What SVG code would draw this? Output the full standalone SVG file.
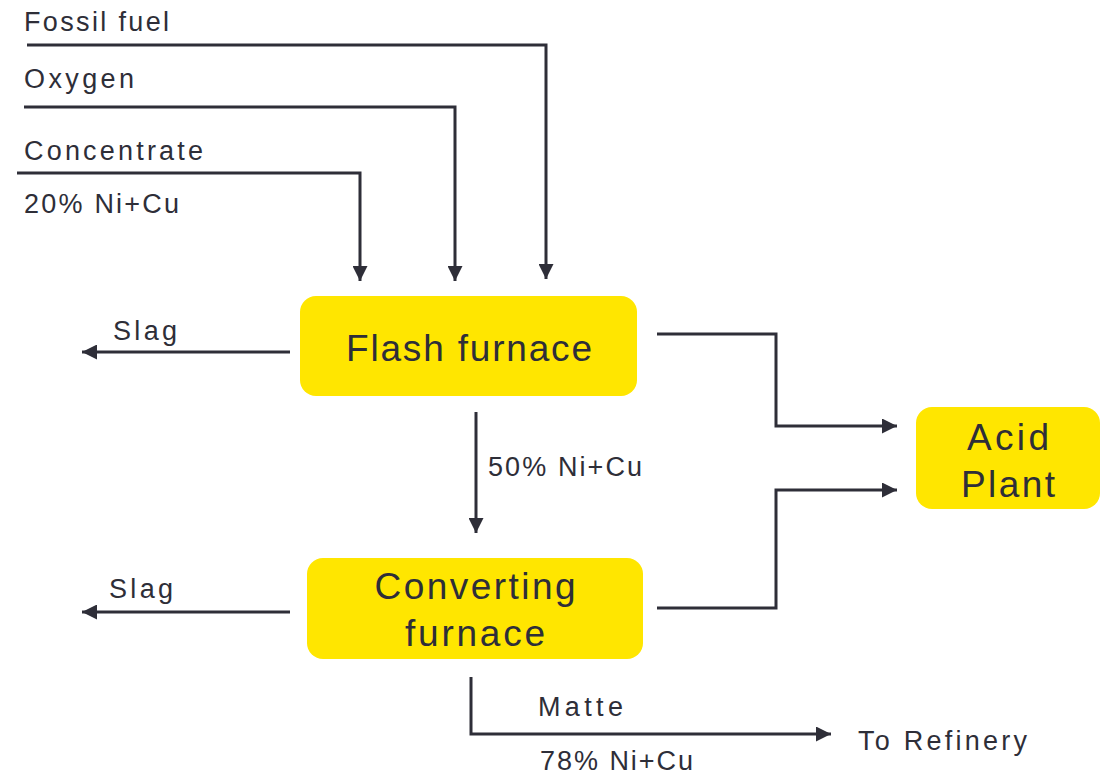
<svg xmlns="http://www.w3.org/2000/svg" width="1109" height="778" viewBox="0 0 1109 778">
<defs>
<marker id="arr" viewBox="0 0 10 10" refX="10" refY="5" markerWidth="5" markerHeight="5" markerUnits="strokeWidth" orient="auto">
<path d="M0,0 L10,5 L0,10 z" fill="#2e2e38"/>
</marker>
<style>
.box{fill:#ffe600;}
.lbl{font-family:"Liberation Sans",Arial,sans-serif;font-size:27px;fill:#2e2e38;}
.nt{font-family:"Liberation Sans",Arial,sans-serif;font-size:37px;fill:#2e2e38;text-anchor:middle;}
.ln{fill:none;stroke:#2e2e38;stroke-width:3;}
.ar{marker-end:url(#arr);}
</style>
</defs>
<rect width="1109" height="778" fill="#ffffff"/>
<g id="connectors">
<polyline class="ln ar" points="27,45 546,45 546,279"/>
<polyline class="ln ar" points="24,107 455,107 455,281"/>
<polyline class="ln ar" points="17,173 360,173 360,281"/>
<polyline class="ln ar" points="290,352 82,352"/>
<polyline class="ln ar" points="657,334 776,334 776,426 897,426"/>
<polyline class="ln ar" points="476,412 476,533"/>
<polyline class="ln ar" points="290,612 82,612"/>
<polyline class="ln ar" points="657,608 776,608 776,490 897,490"/>
<polyline class="ln ar" points="471,677 471,734 831,734"/>
</g>
<g id="labels">
<text class="lbl" x="24" y="31" textLength="145" lengthAdjust="spacing">Fossil fuel</text>
<text class="lbl" x="24" y="88" textLength="110" lengthAdjust="spacing">Oxygen</text>
<text class="lbl" x="24" y="160" textLength="179" lengthAdjust="spacing">Concentrate</text>
<text class="lbl" x="24" y="213" textLength="155" lengthAdjust="spacing">20% Ni+Cu</text>
<text class="lbl" x="113" y="340" textLength="64" lengthAdjust="spacing">Slag</text>
<text class="lbl" x="488" y="476" textLength="154" lengthAdjust="spacing">50% Ni+Cu</text>
<text class="lbl" x="109" y="598" textLength="64" lengthAdjust="spacing">Slag</text>
<text class="lbl" x="538" y="716" textLength="85" lengthAdjust="spacing">Matte</text>
<text class="lbl" x="540" y="770" textLength="153" lengthAdjust="spacing">78% Ni+Cu</text>
<text class="lbl" x="858" y="750" textLength="169" lengthAdjust="spacing">To Refinery</text>
</g>
<g id="flash-furnace">
<rect class="box" x="300" y="296" width="337" height="100" rx="16"/>
<text class="nt" x="469" y="361" textLength="246" lengthAdjust="spacing">Flash furnace</text>
</g>
<g id="converting-furnace">
<rect class="box" x="307" y="558" width="336" height="101" rx="16"/>
<text class="nt" x="475" y="599" textLength="201" lengthAdjust="spacing">Converting</text>
<text class="nt" x="475" y="646" textLength="140" lengthAdjust="spacing">furnace</text>
</g>
<g id="acid-plant">
<rect class="box" x="916" y="407" width="184" height="102" rx="16"/>
<text class="nt" x="1008" y="450" textLength="82" lengthAdjust="spacing">Acid</text>
<text class="nt" x="1008" y="497" textLength="94" lengthAdjust="spacing">Plant</text>
</g>
</svg>
